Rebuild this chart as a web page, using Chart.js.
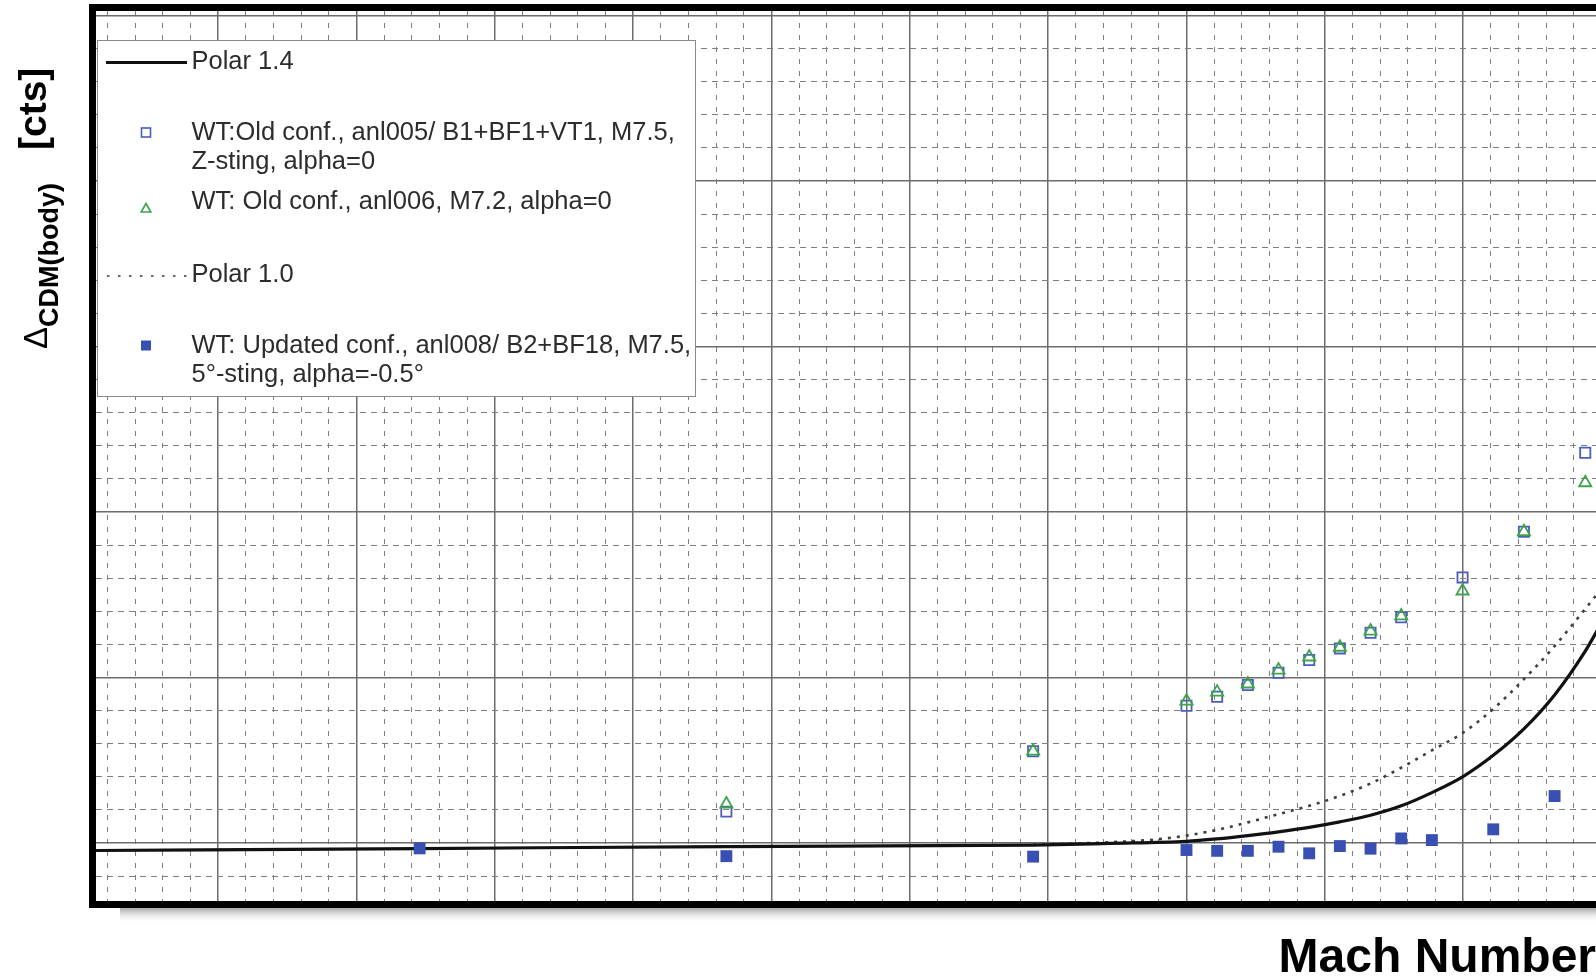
<!DOCTYPE html>
<html><head><meta charset="utf-8">
<script src="https://cdn.jsdelivr.net/npm/chart.js@4.4.1/dist/chart.umd.min.js"></script>
<style>html,body{margin:0;padding:0;background:#fff;overflow:hidden}canvas{display:block}</style>
</head><body>
<canvas id="c" width="1596" height="979"></canvas>
<script>
// ---- data (Mach number vs delta CDM(body) in counts) ----
const machPolar14 = [0.089, 0.30, 0.50, 0.70, 0.75, 0.80, 0.82, 0.84, 0.86, 0.88, 0.90, 0.92, 0.94, 0.96, 0.98, 1.00, 1.02, 1.04, 1.06, 1.07];
const polar14     = [-0.45, -0.33, -0.21, -0.12, -0.02, 0.10, 0.25, 0.45, 0.68, 0.95, 1.28, 1.68, 2.25, 3.05, 4.00, 5.30, 6.90, 8.95, 11.60, 13.2];

const machPolar10 = [0.70, 0.75, 0.78, 0.80, 0.82, 0.84, 0.86, 0.88, 0.90, 0.92, 0.94, 0.96, 0.98, 1.00, 1.02, 1.04, 1.07];
const polar10     = [-0.10, 0.05, 0.22, 0.45, 0.80, 1.25, 1.75, 2.25, 2.85, 3.60, 4.55, 5.60, 6.65, 8.10, 9.90, 11.90, 15.3];

const machOld   = [0.50, 0.70, 0.80, 0.82, 0.84, 0.86, 0.88, 0.90, 0.92, 0.94, 0.98, 1.02, 1.06];
const oldAnl005 = [1.90, 5.55, 8.30, 8.84, 9.55, 10.29, 11.06, 11.76, 12.71, 13.64, 16.05, 18.81, 23.58];
const oldAnl006 = [2.36, 5.56, 8.58, 9.12, 9.61, 10.45, 11.24, 11.83, 12.81, 13.72, 15.23, 18.81, 21.77];

const machNew   = [0.30, 0.50, 0.70, 0.80, 0.82, 0.84, 0.86, 0.88, 0.90, 0.92, 0.94, 0.96, 1.00, 1.04];
const newAnl008 = [-0.32, -0.79, -0.82, -0.42, -0.47, -0.47, -0.22, -0.62, -0.18, -0.34, 0.28, 0.18, 0.83, 2.84];

const seriesLabels = [
  "Polar 1.4",
  "WT:Old conf., anl005/ B1+BF1+VT1, M7.5,\nZ-sting, alpha=0",
  "WT: Old conf., anl006, M7.2, alpha=0",
  "Polar 1.0",
  "WT: Updated conf., anl008/ B2+BF18, M7.5,\n5°-sting, alpha=-0.5°"
];
const xTitle = "Mach Number";
const yTitleParts = ["\u0394", "CDM(body)", "[cts]"];

// axis ranges and grid spacing
const xRange = [0.089, 1.067];
const yRange = [-3.5, 50.27];
const xGridRef = 0.8, xMinorStep = 0.01804;
const yMinorStep = 2;

// ---- helpers ----
const pts = (xs, ys) => xs.map((x, i) => ({x, y: ys[i]}));
function gridTicks(min, max, ref, step) {
  const out = [];
  const j0 = Math.ceil((min - ref) / step - 1e-9), j1 = Math.floor((max - ref) / step + 1e-9);
  for (let j = j0; j <= j1; j++) out.push({value: ref + j * step, major: ((j % 5) + 5) % 5 === 0});
  return out;
}

const COL_OPEN = '#4c5cbd', COL_TRI = '#3ea34c', COL_FILL = '#3a4fb4';
const MAJOR_COL = '#6c6c6c', MINOR_COL = '#7e7e7e';

const datasets = [
  {label: seriesLabels[4], data: pts(machNew, newAnl008), pointStyle: 'rect', pointRadius: 8.4,
   backgroundColor: COL_FILL, borderColor: COL_FILL, borderWidth: 0, showLine: false, order: 0},
  {label: seriesLabels[0], data: pts(machPolar14, polar14), showLine: true, pointRadius: 0,
   borderColor: '#111', borderWidth: 3.2, cubicInterpolationMode: 'monotone', order: 1},
  {label: seriesLabels[2], data: pts(machOld, oldAnl006), pointStyle: 'triangle', pointRadius: 7,
   backgroundColor: 'rgba(0,0,0,0)', borderColor: COL_TRI, borderWidth: 1.8, showLine: false, order: 2},
  {label: seriesLabels[1], data: pts(machOld, oldAnl005), pointStyle: 'rect', pointRadius: 7.2,
   backgroundColor: 'rgba(0,0,0,0)', borderColor: COL_OPEN, borderWidth: 1.8, showLine: false, order: 3},
  {label: seriesLabels[3], data: pts(machPolar10, polar10), showLine: true, pointRadius: 0,
   borderColor: '#404040', borderWidth: 2.6, borderDash: [3, 6], cubicInterpolationMode: 'monotone', order: 4}
];

const FONT = '"Liberation Sans", Arial, Helvetica, sans-serif';

const decorPlugin = {
  id: 'decor',
  beforeDraw(chart) {
    const {ctx, chartArea: a} = chart;
    ctx.save();
    ctx.fillStyle = '#fff';
    ctx.fillRect(0, 0, chart.width, chart.height);
    const g = ctx.createLinearGradient(0, a.bottom + 7, 0, a.bottom + 22);
    g.addColorStop(0, 'rgba(150,150,150,0.85)');
    g.addColorStop(1, 'rgba(255,255,255,0)');
    ctx.fillStyle = g;
    ctx.fillRect(a.left + 24, a.bottom + 7, chart.width, 15);
    ctx.restore();
  },
  afterDraw(chart) {
    const {ctx, chartArea: a} = chart;
    ctx.save();
    // legend box
    const L = {left: 97, top: 40, right: 695, bottom: 396};
    ctx.fillStyle = '#fff';
    ctx.fillRect(L.left, L.top, L.right - L.left, L.bottom - L.top);
    ctx.strokeStyle = '#8a8a8a';
    ctx.lineWidth = 1;
    ctx.strokeRect(L.left + 0.5, L.top + 0.5, L.right - L.left, L.bottom - L.top);
    const baselines = [69, 140, 209, 281.5, 353];
    const textX = 191.5, markX = 146, lineH = 29;
    ctx.font = '25.5px ' + FONT;
    ctx.fillStyle = '#2c2c2c';
    ctx.textBaseline = 'alphabetic';
    ctx.textAlign = 'left';
    seriesLabels.forEach((lab, i) => {
      lab.split('\n').forEach((ln, k) => ctx.fillText(ln, textX, baselines[i] + k * lineH));
    });
    // legend markers
    const my = i => baselines[i] - 7.5;
    ctx.strokeStyle = '#111'; ctx.lineWidth = 3;
    ctx.beginPath(); ctx.moveTo(106, my(0) + 1); ctx.lineTo(187, my(0) + 1); ctx.stroke();
    ctx.strokeStyle = COL_OPEN; ctx.lineWidth = 1.6;
    ctx.strokeRect(markX - 4.5, my(1) - 4.5, 9, 9);
    const ty = 208.5;
    ctx.strokeStyle = COL_TRI; ctx.lineWidth = 1.6;
    ctx.beginPath(); ctx.moveTo(markX, ty - 5); ctx.lineTo(markX + 4.8, ty + 3.5); ctx.lineTo(markX - 4.8, ty + 3.5); ctx.closePath(); ctx.stroke();
    ctx.strokeStyle = '#6a6a6a'; ctx.lineWidth = 2.2; ctx.setLineDash([2.5, 8.5]);
    ctx.beginPath(); ctx.moveTo(107, my(3) + 2); ctx.lineTo(188, my(3) + 2); ctx.stroke();
    ctx.setLineDash([]);
    ctx.fillStyle = COL_FILL;
    ctx.fillRect(markX - 5, my(4) - 5, 10, 10);
    // frame
    ctx.strokeStyle = '#000'; ctx.lineWidth = 7;
    ctx.strokeRect(a.left - 3.5, a.top - 3.5, chart.width + 50, a.bottom - a.top + 7);
    // y-axis title (rotated, mixed fonts)
    ctx.fillStyle = '#000';
    ctx.rotate(-Math.PI / 2);
    ctx.font = '33px ' + FONT;
    ctx.fillText(yTitleParts[0], -349, 47);
    ctx.font = 'bold 27px ' + FONT;
    ctx.fillText(yTitleParts[1], -327, 58);
    ctx.font = 'bold 39px ' + FONT;
    ctx.fillText(yTitleParts[2], -150, 46);
    ctx.restore();
  }
};

const gridColor = c => (c.tick && c.tick.major) ? MAJOR_COL : MINOR_COL;
const gridWidth = c => (c.tick && c.tick.major) ? 1.5 : 1;

new Chart(document.getElementById('c'), {
  type: 'scatter',
  data: {datasets},
  plugins: [decorPlugin],
  options: {
    responsive: false,
    animation: false,
    devicePixelRatio: 1,
    layout: {autoPadding: false, padding: {left: 96, top: 11, right: 0, bottom: 0}},
    plugins: {legend: {display: false}, tooltip: {enabled: false}},
    scales: {
      x: {
        type: 'linear', min: xRange[0], max: xRange[1],
        afterBuildTicks: s => { s.ticks = gridTicks(xRange[0], xRange[1], xGridRef, xMinorStep); },
        ticks: {display: false},
        grid: {color: gridColor, lineWidth: gridWidth, drawTicks: false},
        border: {display: false, dash: c => (c.tick && c.tick.major) ? [] : [5, 7]},
        title: {display: true, text: xTitle, align: 'end', color: '#000',
                font: {family: FONT, size: 48, weight: 'bold', lineHeight: 0.85},
                padding: {top: 37.2, bottom: 0}}
      },
      y: {
        type: 'linear', min: yRange[0], max: yRange[1],
        afterBuildTicks: s => { s.ticks = gridTicks(yRange[0], yRange[1], 0, yMinorStep); },
        ticks: {display: false},
        grid: {color: gridColor, lineWidth: gridWidth, drawTicks: false},
        border: {display: false, dash: c => (c.tick && c.tick.major) ? [] : [6, 5]}
      }
    }
  }
});
</script>
</body></html>
